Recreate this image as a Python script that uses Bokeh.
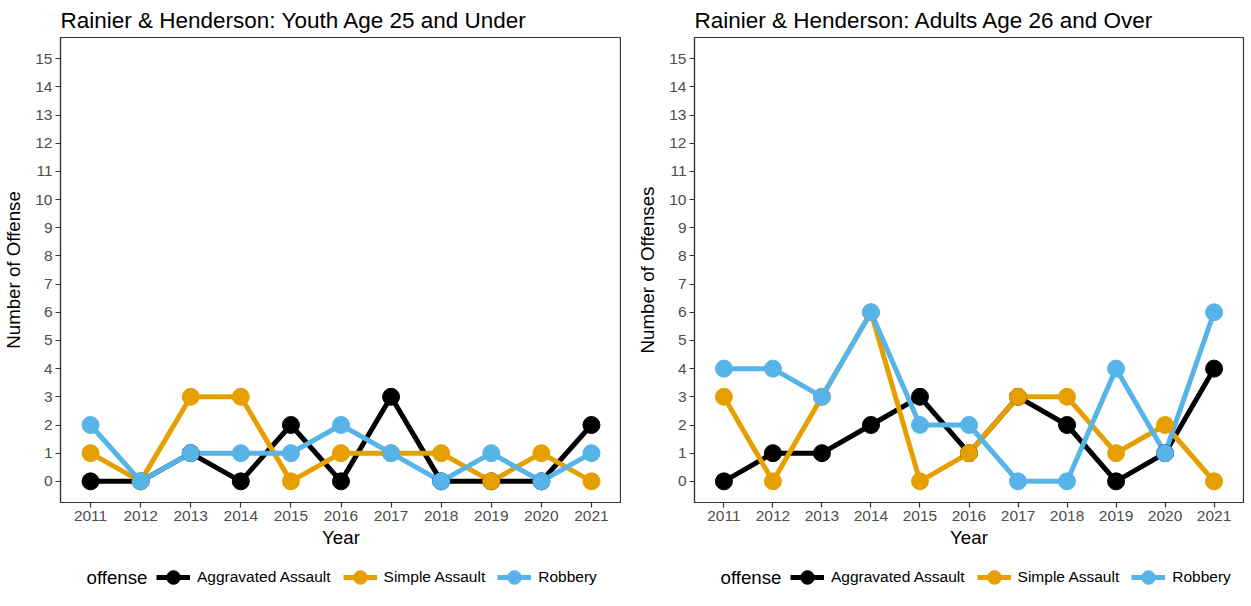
from bokeh.plotting import figure
from bokeh.layouts import row, column
from bokeh.models import Range1d, FixedTicker, Legend, LegendItem, Label
from bokeh.embed import file_html
from bokeh.resources import INLINE

years = [2011, 2012, 2013, 2014, 2015, 2016, 2017, 2018, 2019, 2020, 2021]
offenses = ["Aggravated Assault", "Simple Assault", "Robbery"]
colors = ["#000000", "#E69F00", "#56B4E9"]
legend_title = "offense"

youth_aggravated = [0, 0, 1, 0, 2, 0, 3, 0, 0, 0, 2]
youth_simple = [1, 0, 3, 3, 0, 1, 1, 1, 0, 1, 0]
youth_robbery = [2, 0, 1, 1, 1, 2, 1, 0, 1, 0, 1]

adult_aggravated = [0, 1, 1, 2, 3, 1, 3, 2, 0, 1, 4]
adult_simple = [3, 0, 3, 6, 0, 1, 3, 3, 1, 2, 0]
adult_robbery = [4, 4, 3, 6, 2, 2, 0, 0, 4, 1, 6]

y_ticks = list(range(0, 16))
FONT = "Liberation Sans"


def make_panel(title, ylabel, series, frame_width, border_right):
    p = figure(frame_width=frame_width, frame_height=465,
               output_backend="svg", toolbar_location=None,
               x_range=Range1d(2010.4, 2021.6), y_range=Range1d(-0.75, 15.75),
               min_border_left=55, min_border_right=border_right,
               min_border_top=30, min_border_bottom=0,
               background_fill_color="white", border_fill_color="white")
    p.title.text = title
    p.title.text_font = FONT
    p.title.text_font_size = "22.5px"
    p.title.text_font_style = "normal"
    p.title.text_color = "black"
    p.title.align = "left"
    p.title.standoff = 10

    p.xgrid.grid_line_color = None
    p.ygrid.grid_line_color = None
    p.outline_line_color = "#333333"
    p.outline_line_width = 1.2
    p.outline_line_alpha = 1

    p.xaxis.ticker = FixedTicker(ticks=years)
    p.yaxis.ticker = FixedTicker(ticks=y_ticks)
    p.xaxis.axis_label = "Year"
    p.yaxis.axis_label = ylabel
    for ax in (p.xaxis, p.yaxis):
        ax.axis_line_color = "#333333"
        ax.axis_line_width = 1.2
        ax.major_tick_line_color = "#333333"
        ax.major_tick_line_width = 1.2
        ax.major_tick_out = 5
        ax.major_tick_in = 0
        ax.minor_tick_line_color = None
        ax.major_label_text_font = FONT
        ax.major_label_text_font_size = "15.5px"
        ax.major_label_text_color = "#4d4d4d"
        ax.major_label_standoff = 3
        ax.axis_label_text_font = FONT
        ax.axis_label_text_font_size = "18.7px"
        ax.axis_label_text_font_style = "normal"
        ax.axis_label_text_color = "black"
    p.xaxis.axis_label_standoff = 3
    p.yaxis.axis_label_standoff = 8

    for vals, c in zip(series, colors):
        p.line(years, vals, line_color=c, line_width=5)
    for vals, c in zip(series, colors):
        p.scatter(years, vals, size=17, fill_color=c, line_color=c)
    return p


def make_legend_fig(series, width):
    lf = figure(width=width, height=46, output_backend="svg", toolbar_location=None,
                x_range=Range1d(0, 1), y_range=Range1d(0, 1),
                x_axis_location=None, y_axis_location=None,
                min_border=0, min_border_left=0, min_border_right=0,
                min_border_top=0, min_border_bottom=0,
                background_fill_color="white", border_fill_color="white")
    lf.xgrid.grid_line_color = None
    lf.ygrid.grid_line_color = None
    lf.outline_line_color = None

    items = []
    for name, vals, c in zip(offenses, series, colors):
        l = lf.line(years, vals, line_color=c, line_width=5, visible=False)
        s = lf.scatter(years, vals, size=17, fill_color=c, line_color=c, visible=False)
        items.append(LegendItem(label=name, renderers=[l, s]))
    legend = Legend(items=items, orientation="horizontal", location=(96, 2))
    legend.label_text_font = FONT
    legend.label_text_font_size = "15.5px"
    legend.label_text_color = "black"
    legend.label_text_baseline = "middle"
    legend.glyph_width = 34
    legend.glyph_height = 34
    legend.label_standoff = 7
    legend.spacing = 12
    legend.padding = 0
    legend.margin = 0
    legend.border_line_color = None
    legend.background_fill_color = None
    legend.background_fill_alpha = 0
    legend.inactive_fill_alpha = 0
    lf.add_layout(legend, "center")

    lf.add_layout(Label(x=26, y=19, x_units="screen", y_units="screen",
                        text=legend_title, text_font=FONT, text_font_size="18.7px",
                        text_color="black", text_baseline="middle", text_align="left"))
    return lf


youth = [youth_aggravated, youth_simple, youth_robbery]
adult = [adult_aggravated, adult_simple, adult_robbery]

p1 = make_panel("Rainier & Henderson: Youth Age 25 and Under", "Number of Offense",
                youth, 561, 0)
p2 = make_panel("Rainier & Henderson: Adults Age 26 and Over", "Number of Offenses",
                adult, 549, 2)
l1 = make_legend_fig(youth, 612)
l2 = make_legend_fig(adult, 604)

layout = row(column(p1, l1), column(p2, l2), spacing=13)
open("out.html", "w").write(file_html(layout, INLINE))
